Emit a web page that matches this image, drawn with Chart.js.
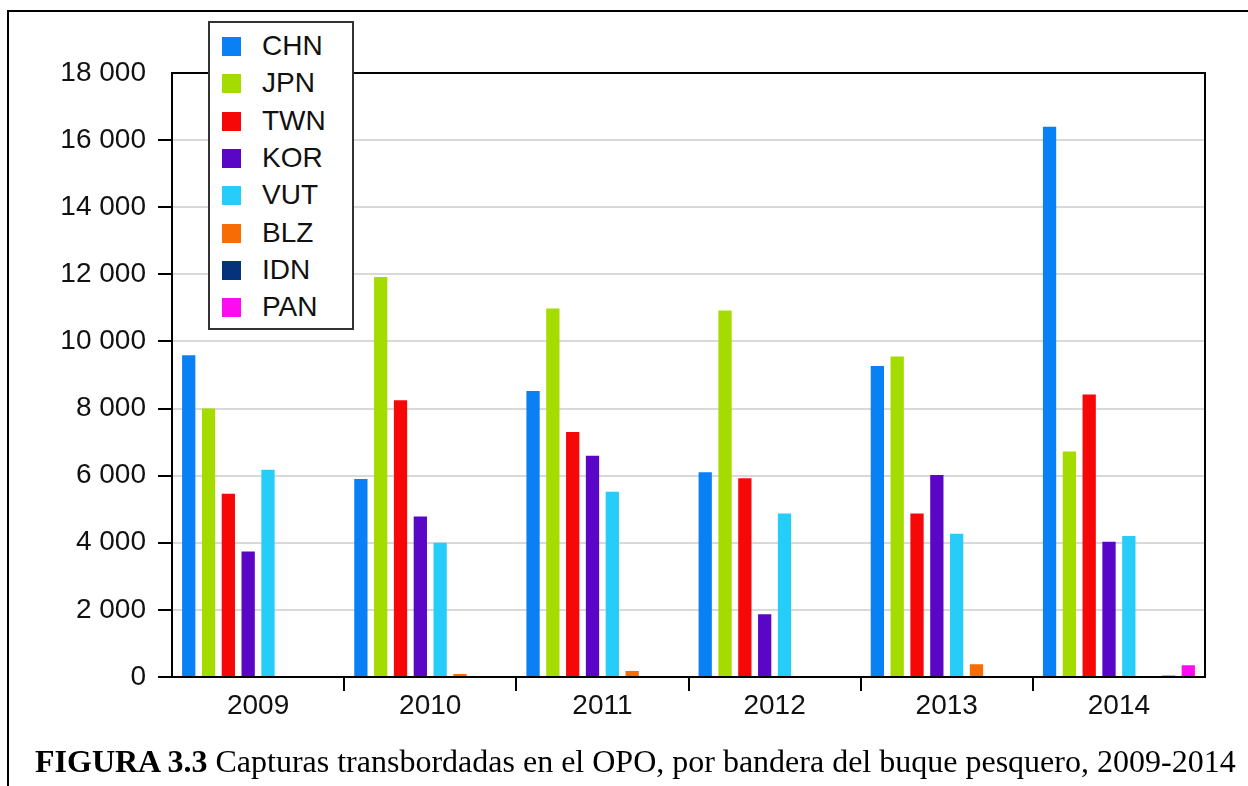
<!DOCTYPE html>
<html>
<head>
<meta charset="utf-8">
<script src="https://cdn.jsdelivr.net/npm/chart.js@4.4.1/dist/chart.umd.min.js"></script>
<style>
  body { margin: 0; background: #fff; overflow: hidden; }
  #page { position: relative; width: 1248px; height: 786px; }
  #frame {
    position: absolute; left: 7px; top: 10px; width: 1300px; height: 900px;
    border-left: 2px solid #000; border-top: 2px solid #000;
  }
  #chartBox { position: absolute; left: 0; top: 0; width: 1248px; height: 786px; }
  #legend {
    position: absolute; left: 208px; top: 21px; width: 142px; height: 305px;
    border: 2px solid #333; background: #fff;
    font-family: "Liberation Sans", Arial, sans-serif; font-size: 28px; color: #111;
  }
  .legend-item { position: absolute; left: 0; height: 30px; line-height: 30px; }
  .legend-swatch { position: absolute; left: 12px; top: 6px; width: 19px; height: 19px; }
  .legend-label { position: absolute; left: 52px; top: 0; white-space: nowrap; }
  #caption {
    position: absolute; left: 35px; top: 743px; white-space: nowrap;
    font-family: "Liberation Serif", "Times New Roman", serif; font-size: 32px; color: #000;
  }
</style>
</head>
<body>
<div id="page">
  <div id="frame"></div>
  <div id="chartBox"><canvas id="chart"></canvas></div>
  <div id="legend"></div>
  <div id="caption"><b>FIGURA 3.3</b> Capturas transbordadas en el OPO, por bandera del buque pesquero, 2009-2014</div>
</div>
<script>
// === Data (toneladas) ===
const years = ["2009", "2010", "2011", "2012", "2013", "2014"];
const chn = [9590, 5900, 8520, 6100, 9270, 16400];
const jpn = [8000, 11920, 10980, 10920, 9550, 6720];
const twn = [5460, 8250, 7300, 5920, 4870, 8420];
const kor = [3740, 4780, 6590, 1870, 6020, 4030];
const vut = [6180, 4000, 5520, 4870, 4270, 4200];
const blz = [0, 90, 180, 0, 380, 20];
const idn = [0, 0, 0, 0, 0, 40];
const pan = [0, 0, 0, 0, 0, 350];

const yMax = 18000;
const yStep = 2000;

const series = [
  { label: "CHN", data: chn, color: "#0a80f5" },
  { label: "JPN", data: jpn, color: "#a4dc00" },
  { label: "TWN", data: twn, color: "#f70808" },
  { label: "KOR", data: kor, color: "#5906c6" },
  { label: "VUT", data: vut, color: "#26cdf8" },
  { label: "BLZ", data: blz, color: "#f76c05" },
  { label: "IDN", data: idn, color: "#05327a" },
  { label: "PAN", data: pan, color: "#fe0cf0" },
];

const FONT = "'Liberation Sans', Arial, sans-serif";

// "18000" -> "18 000"
function fmt(v) {
  return String(v).replace(/\B(?=(\d{3})+(?!\d))/g, " ");
}

// === Plot frame (top / right edges) ===
const frameBox = {
  id: "frameBox",
  afterDraw(chart) {
    const a = chart.chartArea;
    const ctx = chart.ctx;
    ctx.save();
    ctx.strokeStyle = "#000";
    ctx.lineWidth = 2;
    ctx.strokeRect(a.left, a.top, a.right - a.left, a.bottom - a.top);
    ctx.restore();
  }
};

const ctx = document.getElementById("chart").getContext("2d");
const chart = new Chart(ctx, {
  type: "bar",
  data: {
    labels: years,
    datasets: series.map((s) => ({
      label: s.label,
      data: s.data,
      backgroundColor: s.color,
      borderWidth: 0,
      categoryPercentage: 0.921,
      barPercentage: 0.67,
    })),
  },
  options: {
    responsive: true,
    maintainAspectRatio: false,
    animation: false,
    layout: { padding: { top: 73, right: 43, left: 0, bottom: 0 } },
    plugins: { legend: { display: false }, tooltip: { enabled: false } },
    scales: {
      x: {
        afterFit: (scale) => { scale.height = 109; },
        grid: {
          offset: true,
          drawOnChartArea: false,
          drawTicks: true,
          tickLength: 14,
          lineWidth: 2,
          tickColor: (c) => (c.type !== "tick" || c.index === 0 ? "rgba(0,0,0,0)" : "#000"),
        },
        border: { display: true, color: "#000", width: 2 },
        ticks: { color: "#111", font: { family: FONT, size: 28, lineHeight: 1 }, padding: 1 },
      },
      y: {
        min: 0,
        max: yMax,
        afterFit: (scale) => { scale.width = 172; },
        grid: {
          color: "#d9d9d9",
          lineWidth: 2,
          tickLength: 14,
          tickColor: (c) => (c.tick && c.tick.value === yMax ? "rgba(0,0,0,0)" : "#000"),
        },
        border: { display: true, color: "#000", width: 2 },
        ticks: {
          stepSize: yStep,
          color: "#111",
          padding: 12,
          font: { family: FONT, size: 28 },
          callback: (v) => fmt(v),
        },
      },
    },
  },
  plugins: [frameBox],
});

// === Legend (HTML, on top of the plot) ===
const legendEl = document.getElementById("legend");
chart.data.datasets.forEach((ds, i) => {
  const item = document.createElement("div");
  item.className = "legend-item";
  item.style.top = (8 + i * 37.3) + "px";
  item.innerHTML = `<span class="legend-swatch" style="background:${ds.backgroundColor}"></span>` +
    `<span class="legend-label">${ds.label}</span>`;
  legendEl.appendChild(item);
});
</script>
</body>
</html>
